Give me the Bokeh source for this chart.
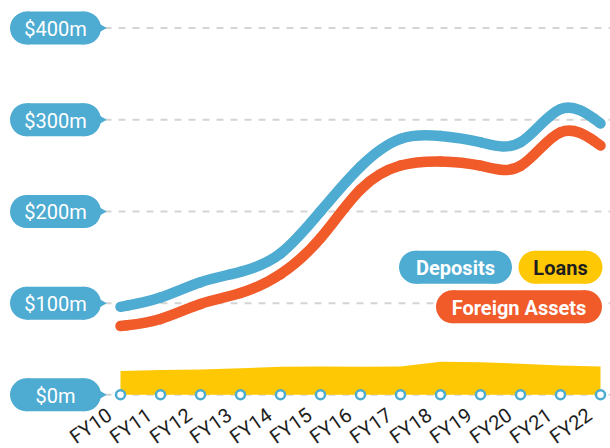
import math
from bokeh.plotting import figure
from bokeh.models import ColumnDataSource, Range1d
from bokeh.embed import file_html
from bokeh.resources import INLINE
from bokeh.core.properties import value

# ---------------- data ----------------
years = ["FY10", "FY11", "FY12", "FY13", "FY14", "FY15", "FY16",
         "FY17", "FY18", "FY19", "FY20", "FY21", "FY22"]
deposits = [96, 104, 125, 133, 148, 200, 252, 285, 283, 277, 262, 328, 296]
foreign_assets = [75, 80, 101.5, 109, 128.6, 166.5, 231, 253.5, 255.5, 252, 236, 302.5, 272]
loans = [26, 27, 27.5, 29, 30.5, 31, 30.5, 31, 36, 35.5, 34, 32, 31]
y_ticks = [0, 100, 200, 300, 400]
y_tick_labels = ["$0m", "$100m", "$200m", "$300m", "$400m"]
legend_labels = ["Deposits", "Loans", "Foreign Assets"]

# ---------------- style / layout ----------------
BLUE = "#4eabd1"
ORANGE = "#f15a29"
YELLOW = "#ffc805"
GRID = "#d4d4d4"
DARK = "#1e1e1e"
FONT = "Roboto"

W, H = 610, 448
STEP_PX = 40.0          # px between years
X_FIRST_PX = 120.0      # canvas px of first year
Y_ZERO_PX = 394.3       # canvas px of $0
PX_PER_M = 0.9167

x_start = -X_FIRST_PX / STEP_PX
x_end = x_start + W / STEP_PX
y_end = Y_ZERO_PX / PX_PER_M
y_start = (Y_ZERO_PX - H) / PX_PER_M


def dx(px):
    return x_start + px / STEP_PX


def dy(py):
    return (Y_ZERO_PX - py) / PX_PER_M


xs = list(range(len(years)))

p = figure(width=W, height=H, x_range=Range1d(x_start, x_end),
           y_range=Range1d(y_start, y_end), output_backend="svg",
           toolbar_location=None, min_border=0,
           x_axis_location=None, y_axis_location=None)
p.grid.visible = False
p.outline_line_color = None
p.background_fill_color = "white"
p.border_fill_color = "white"

# gridlines
p.segment(x0=dx(104), y0=y_ticks, x1=x_end, y1=y_ticks,
          line_color=GRID, line_width=2, line_dash="7 7")

# loans area
p.varea(x=xs, y1=0, y2=loans, fill_color=YELLOW)


# smooth (B-spline basis) curves drawn as bezier segments from the data
def basis_source(xv, yv):
    keys = ("x0", "y0", "x1", "y1", "cx0", "cy0", "cx1", "cy1")
    cols = {k: [] for k in keys}

    def add(a, c1, c2, b):
        for k, v in zip(keys, (a[0], a[1], b[0], b[1], c1[0], c1[1], c2[0], c2[1])):
            cols[k].append(v)

    first = (xv[0], yv[0])
    cur = ((5 * xv[0] + xv[1]) / 6, (5 * yv[0] + yv[1]) / 6)
    add(first, first, cur, cur)
    pts = list(zip(xv, yv)) + [(xv[-1], yv[-1])]
    for i in range(2, len(pts)):
        (x0, y0), (x1, y1), (x, y) = pts[i - 2], pts[i - 1], pts[i]
        c1 = ((2 * x0 + x1) / 3, (2 * y0 + y1) / 3)
        c2 = ((x0 + 2 * x1) / 3, (y0 + 2 * y1) / 3)
        end = ((x0 + 4 * x1 + x) / 6, (y0 + 4 * y1 + y) / 6)
        add(cur, c1, c2, end)
        cur = end
    last = (xv[-1], yv[-1])
    add(cur, cur, last, last)
    return ColumnDataSource(cols)


for series, color in ((foreign_assets, ORANGE), (deposits, BLUE)):
    p.bezier(x0="x0", y0="y0", x1="x1", y1="y1", cx0="cx0", cy0="cy0",
             cx1="cx1", cy1="cy1", source=basis_source(xs, series),
             line_color=color, line_width=10.5, line_cap="round")

# dots on the baseline
p.scatter(x=xs, y=0, size=9, fill_color="white", line_color=BLUE, line_width=2.5)

# y-axis pills
PILL_H = 33
pill_cx = 55
pill_w = 91
p.rect(x=dx(pill_cx), y=y_ticks, width=pill_w - PILL_H, height=PILL_H,
       width_units="screen", height_units="screen", fill_color=BLUE, line_color=None)
for side in (-1, 1):
    p.scatter(x=dx(pill_cx + side * (pill_w - PILL_H) / 2), y=y_ticks, size=PILL_H,
              fill_color=BLUE, line_color=None)
p.scatter(x=dx(101), y=y_ticks, marker="triangle", size=9, angle=-math.pi / 2,
          fill_color=BLUE, line_color=None)
p.text(x=dx(pill_cx), y=y_ticks, text=y_tick_labels, text_font=value(FONT),
       text_font_size="20px", text_color="white", text_align="center",
       text_baseline="middle", y_offset=1)

# x tick labels
p.text(x=xs, y=0, text=years, angle=0.61, text_font=value(FONT),
       text_font_size="20px", text_color=DARK, text_align="right",
       text_baseline="top", x_offset=-18, y_offset=8)

# legend pills
leg_cx = [455, 560, 518.5]
leg_cy = [266.7, 266.7, 306.3]
leg_w = [113, 84, 166]
leg_fill = [BLUE, YELLOW, ORANGE]
leg_text = ["white", DARK, "white"]
for lab, cx, cy, w, fc, tc in zip(legend_labels, leg_cx, leg_cy, leg_w, leg_fill, leg_text):
    p.rect(x=dx(cx), y=dy(cy), width=w - PILL_H, height=PILL_H,
           width_units="screen", height_units="screen", fill_color=fc, line_color=None)
    for side in (-1, 1):
        p.scatter(x=dx(cx + side * (w - PILL_H) / 2), y=dy(cy), size=PILL_H,
                  fill_color=fc, line_color=None)
    p.text(x=dx(cx), y=dy(cy), text=[lab], text_font=value(FONT),
           text_font_size="20px", text_font_style="bold", text_color=tc,
           text_align="center", text_baseline="middle", y_offset=1)

open("out.html", "w").write(file_html(p, INLINE))
